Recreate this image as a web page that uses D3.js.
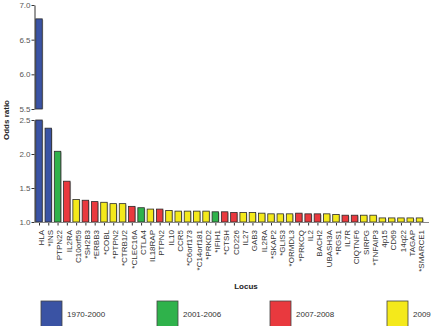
<!DOCTYPE html>
<html><head><meta charset="utf-8">
<script src="https://cdn.jsdelivr.net/npm/d3@7"></script>
<style>body{margin:0;background:#fff}svg{display:block;font-family:"Liberation Sans",Arial,sans-serif}</style>
</head><body><svg id="c" width="433" height="326"></svg>
<script>
const categories = ["HLA","*INS","PTPN22","IL2RA","C10orf59","*SH2B3","*ERBB3","*COBL","*PTPN2","*CTRB1/2","*CLEC16A","CTLA4","IL18RAP","PTPN2","IL10","CCR5","*C6orf173","*C14orf181","*PRKD2","*IFIH1","*CTSH","CD226","IL27","GAB3","IL2RA","*SKAP2","*GLIS3","*ORMDL3","*PRKCQ","IL2","BACH2","UBASH3A","*RGS1","IL7R","CIQTNF6","SIRPG","*TNFAIP3","4p15","CD69","14q22","TAGAP","*SMARCE1"];
const oddsRatios = [6.8,2.38,2.04,1.60,1.33,1.32,1.30,1.29,1.27,1.27,1.23,1.21,1.19,1.19,1.17,1.16,1.16,1.16,1.16,1.15,1.15,1.14,1.14,1.14,1.13,1.12,1.12,1.12,1.13,1.12,1.12,1.12,1.11,1.10,1.10,1.10,1.10,1.06,1.06,1.06,1.06,1.06];
const periods = ["1970-2000","1970-2000","2001-2006","2007-2008","2009","2007-2008","2007-2008","2009","2009","2009","2007-2008","2001-2006","2009","2007-2008","2009","2009","2009","2009","2009","2001-2006","2007-2008","2007-2008","2009","2009","2009","2009","2009","2009","2007-2008","2007-2008","2007-2008","2009","2009","2007-2008","2007-2008","2009","2009","2009","2009","2009","2009","2009"];
const legendLabels = ["1970-2000","2001-2006","2007-2008","2009"];
const legendColors = ["#3a53a4","#2fb24b","#e9393e","#f4e91b"];
const upperTicks = [5.5,6.0,6.5,7.0];
const lowerTicks = [1.0,1.5,2.0,2.5];

const svg = d3.select("#c");
const color = d3.scaleOrdinal().domain(legendLabels).range(legendColors);
const x = d3.scalePoint().domain(d3.range(categories.length)).range([39,419.5]);
const yUp = d3.scaleLinear().domain([5.5,7.0]).range([109,5]);
const yLo = d3.scaleLinear().domain([1.0,2.5]).range([222,120]);
const bw = 6.5;
const data = categories.map((c,i)=>({i, c, v:oddsRatios[i], p:periods[i]}));

function bars(g, y, lo, hi){
  const sel = data.filter(d=>d.v>lo);
  g.selectAll("rect.sh").data(sel).join("rect").attr("class","sh")
    .attr("x",d=>x(d.i)-bw/2+1).attr("width",bw)
    .attr("y",d=>y(Math.min(d.v,hi))+1).attr("height",d=>y(lo)-y(Math.min(d.v,hi))-1)
    .attr("fill","#c4c4c4");
  g.selectAll("rect.b").data(sel).join("rect").attr("class","b")
    .attr("x",d=>x(d.i)-bw/2).attr("width",bw)
    .attr("y",d=>y(Math.min(d.v,hi))).attr("height",d=>y(lo)-y(Math.min(d.v,hi)))
    .attr("fill",d=>color(d.p)).attr("stroke","#2a2a2a").attr("stroke-width",0.8);
}
bars(svg.append("g"), yUp, 5.5, 7.0);
bars(svg.append("g"), yLo, 1.0, 2.5);

function yaxis(y, ticks){
  const g = svg.append("g").attr("transform","translate(34.5,0)")
    .call(d3.axisLeft(y).tickValues(ticks).tickFormat(d3.format(".1f")).tickSize(3).tickSizeOuter(0));
  g.select(".domain").attr("stroke","#333");
  g.selectAll(".tick line").attr("stroke","#333");
  g.selectAll(".tick text").attr("fill","#555").attr("font-size","8px").attr("x",-4).attr("font-family","Liberation Sans, Arial, sans-serif");
}
yaxis(yUp, upperTicks);
yaxis(yLo, lowerTicks);

const xa = svg.append("g").attr("transform","translate(0,222.5)")
  .call(d3.axisBottom(x).tickSize(3).tickSizeOuter(0).tickFormat(""));
xa.select(".domain").remove();
xa.selectAll(".tick line").attr("stroke","#333");
svg.append("line").attr("x1",34).attr("x2",429).attr("y1",222.5).attr("y2",222.5).attr("stroke","#888").attr("stroke-width",1);

svg.append("g").selectAll("text").data(data).join("text")
  .attr("transform",d=>`translate(${x(d.i)+2},230) rotate(-90)`)
  .attr("text-anchor","end").attr("dy","0.35em")
  .attr("font-size","8px").attr("fill","#333").text(d=>d.c);

svg.append("text").attr("transform","translate(9,120) rotate(-90)")
  .attr("text-anchor","middle").attr("font-size","8px").attr("font-weight","bold").attr("fill","#222").text("Odds ratio");
svg.append("text").attr("x",246).attr("y",289).attr("text-anchor","middle")
  .attr("font-size","8px").attr("font-weight","bold").attr("fill","#222").text("Locus");

const legX = [41,157,270,387];
const lg = svg.append("g").selectAll("g").data(legendLabels).join("g")
  .attr("transform",(d,i)=>`translate(${legX[i]},301)`);
lg.append("rect").attr("width",21).attr("height",30).attr("fill",d=>color(d)).attr("stroke","#444").attr("stroke-width",0.8);
lg.append("text").attr("x",26).attr("y",16).attr("font-size","8px").attr("fill","#333").text(d=>d);
</script></body></html>
